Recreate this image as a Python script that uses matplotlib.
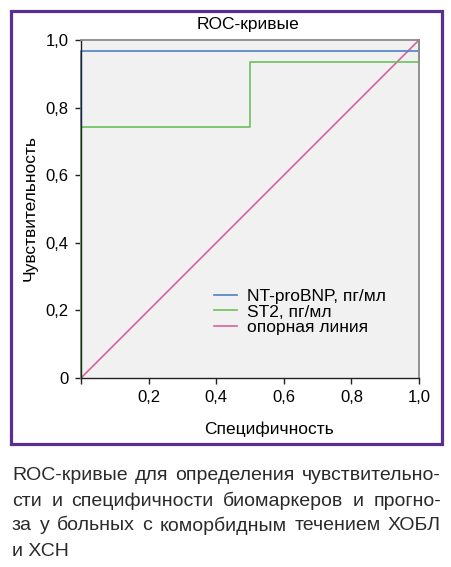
import matplotlib
matplotlib.use('Agg')
import matplotlib.pyplot as plt
from matplotlib.patches import Rectangle
from matplotlib.ticker import FuncFormatter

plt.rcParams['font.family'] = ['Liberation Sans', 'DejaVu Sans']

# ROC data
nt_fpr = [0, 0, 1, 1]
nt_tpr = [0, 0.967, 0.967, 1.0]
st2_fpr = [0, 0, 0.5, 0.5, 1, 1]
st2_tpr = [0, 0.742, 0.742, 0.935, 0.935, 1.0]
ref_fpr = [0, 1]
ref_tpr = [0, 1]

labels = ['NT-proBNP, пг/мл', 'ST2, пг/мл', 'опорная линия']
colors = ['#4f7fc4', '#6cc05a', '#d4649c']

x_ticks = [0, 0.2, 0.4, 0.6, 0.8, 1.0]
y_ticks = [0, 0.2, 0.4, 0.6, 0.8, 1.0]

caption = [
    'ROC-кривые для определения чувствительно-',
    'сти и специфичности биомаркеров и прогно-',
    'за у больных с коморбидным течением ХОБЛ',
    'и ХСН',
]

W, H = 452, 567
fig = plt.figure(figsize=(W / 100, H / 100), dpi=100)

# purple frame around the chart
fig.patches.append(Rectangle((11 / W, 1 - 444 / H), 431 / W, 433 / H,
                             transform=fig.transFigure, fill=False,
                             edgecolor='#5a2d91', linewidth=2.3))

ax = fig.add_axes([81 / W, 1 - 378 / H, 338 / W, 338 / H])
ax.set_facecolor('#f1f1f1')

ax.plot(ref_fpr, ref_tpr, color=colors[2], lw=1.2, clip_on=False, label=labels[2])
ax.plot(nt_fpr, nt_tpr, color=colors[0], lw=1.2, clip_on=False, label=labels[0])
ax.plot(st2_fpr, st2_tpr, color=colors[1], lw=1.2, clip_on=False, label=labels[1])

ax.set_xlim(0, 1)
ax.set_ylim(0, 1)
ax.set_xticks(x_ticks)
ax.set_yticks(y_ticks)


def fmt_x(v, pos):
    return '' if v == 0 else ('%.1f' % v).replace('.', ',')


def fmt_y(v, pos):
    return '0' if v == 0 else ('%.1f' % v).replace('.', ',')


ax.xaxis.set_major_formatter(FuncFormatter(fmt_x))
ax.yaxis.set_major_formatter(FuncFormatter(fmt_y))
ax.tick_params(labelsize=12, length=4, width=1, color='#222222', pad=5)

for s in ['top', 'right']:
    ax.spines[s].set_color('#8a8a8a')
    ax.spines[s].set_linewidth(1.3)
for s in ['left', 'bottom']:
    ax.spines[s].set_color('#222222')
    ax.spines[s].set_linewidth(1.0)

fig.text(248 / W, 1 - 24 / H, 'ROC-кривые', ha='center', va='center', fontsize=12.5)
fig.text(30 / W, 1 - 208 / H, 'Чувствительность', ha='center', va='center',
         rotation=90, fontsize=12.5)
fig.text(269 / W, 1 - 429 / H, 'Специфичность', ha='center', va='center', fontsize=12.5)

h, l = ax.get_legend_handles_labels()
order = [1, 2, 0]
ax.legend([h[i] for i in order], [l[i] for i in order],
          loc='center left', bbox_to_anchor=((214 - 81) / 338, (378 - 312) / 338),
          frameon=False, fontsize=12.5, handlelength=1.35, handletextpad=0.55,
          labelspacing=0.02, borderpad=0, borderaxespad=0)

# justified caption
fig.canvas.draw()
r = fig.canvas.get_renderer()
x0, x1 = 12, 441
ys = [475, 501, 526, 551]
for i, line in enumerate(caption):
    words = line.split(' ')
    if i == len(caption) - 1 or len(words) == 1:
        fig.text(x0 / W, 1 - ys[i] / H, line, ha='left', va='center',
                 fontsize=14, color='#2a2a2a')
        continue
    ts = [fig.text(0, 1 - ys[i] / H, w, ha='left', va='center',
                   fontsize=14, color='#2a2a2a') for w in words]
    widths = [t.get_window_extent(r).width for t in ts]
    gap = (x1 - x0 - sum(widths)) / (len(words) - 1)
    x = x0
    for t, w in zip(ts, widths):
        t.set_x(x / W)
        x += w + gap

fig.savefig('out.png', dpi=100)
